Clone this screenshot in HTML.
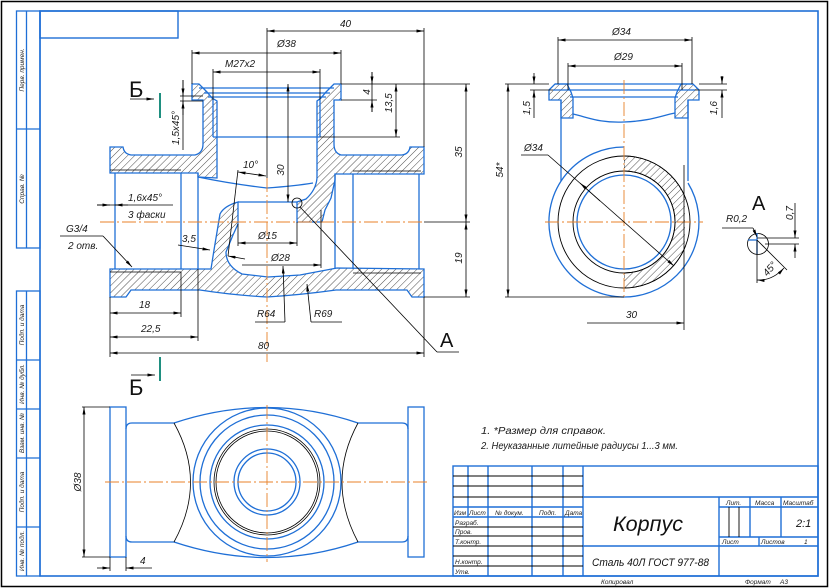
<!DOCTYPE html>
<html><head><meta charset="utf-8"><style>
html,body{margin:0;padding:0;background:#fff;}
svg{display:block;}
.t{font-family:"Liberation Sans","DejaVu Sans",sans-serif;font-style:italic;font-size:10px;fill:#1a1a1a;}
.s{font-family:"Liberation Sans","DejaVu Sans",sans-serif;font-style:italic;font-size:6.5px;fill:#1a1a1a;}
.b{fill:none;stroke:#1f6fd6;stroke-width:1.3;}
.k{fill:none;stroke:#000;stroke-width:0.8;}
.c{fill:none;stroke:#e8822a;stroke-width:0.9;stroke-dasharray:14 3 2 3;}
.h{fill:url(#hat);stroke:#1f6fd6;stroke-width:1.3;}
</style></head><body>
<svg width="830" height="588" viewBox="0 0 830 588" xmlns="http://www.w3.org/2000/svg">
<defs>
<pattern id="hat" patternUnits="userSpaceOnUse" width="5" height="5" patternTransform="rotate(45)">
<line x1="0" y1="0" x2="0" y2="5" stroke="#000" stroke-width="0.7"/>
</pattern>
<marker id="a" viewBox="0 0 10 4" refX="10" refY="2" markerWidth="8" markerHeight="3" orient="auto-start-reverse" markerUnits="userSpaceOnUse">
<path d="M0,0 L10,2 L0,4 z" fill="#000"/>
</marker>
<clipPath id="cl"><rect x="624" y="140" width="61" height="160"/></clipPath>
</defs>
<rect width="830" height="588" fill="#fff"/>

<!-- frames -->
<rect x="1.5" y="1.5" width="826" height="585" fill="none" stroke="#000" stroke-width="1.5"/>
<rect x="40" y="11" width="778" height="565" fill="none" stroke="#1f6fd6" stroke-width="1.6"/>
<rect x="40" y="11" width="138" height="27" fill="none" stroke="#1f6fd6" stroke-width="1.4"/>
<g fill="none" stroke="#1f6fd6" stroke-width="1.3">
<rect x="16.5" y="11" width="23.5" height="237"/>
<line x1="16.5" y1="129" x2="40" y2="129"/>
<line x1="26.5" y1="11" x2="26.5" y2="248"/>
<rect x="16.5" y="291" width="23.5" height="285"/>
<line x1="16.5" y1="360" x2="40" y2="360"/>
<line x1="16.5" y1="409" x2="40" y2="409"/>
<line x1="16.5" y1="458" x2="40" y2="458"/>
<line x1="16.5" y1="527" x2="40" y2="527"/>
<line x1="26.5" y1="291" x2="26.5" y2="576"/>
</g>
<text class="s" transform="rotate(-90 24 70)" x="24" y="70" text-anchor="middle">Перв. примен.</text>
<text class="s" transform="rotate(-90 24 189)" x="24" y="189" text-anchor="middle">Справ. №</text>
<text class="s" transform="rotate(-90 24 325)" x="24" y="325" text-anchor="middle">Подп. и дата</text>
<text class="s" transform="rotate(-90 24 384)" x="24" y="384" text-anchor="middle">Инв. № дубл.</text>
<text class="s" transform="rotate(-90 24 433)" x="24" y="433" text-anchor="middle">Взам. инв. №</text>
<text class="s" transform="rotate(-90 24 492)" x="24" y="492" text-anchor="middle">Подп. и дата</text>
<text class="s" transform="rotate(-90 24 551)" x="24" y="551" text-anchor="middle">Инв. № подл.</text>

<!-- ===== FRONT VIEW (section) ===== -->
<path class="h" d="M110,147 L123,147 Q124,154 131,155 L195,155 Q203,153 203,144 L203,100 L192,100 L192,84 L199,84 L207,92 L212,98 L217,101 L217,178 L198,177 L198,173 L110,173 Z"/>
<path class="h" d="M424,147 L410,147 Q409,154 402,155 L341,155 Q334,153 334,144 L334,100 L341,100 L341,84 L334,84 L326,92 L321,98 L317,101 L317,178 Q316,190 306,199 L297,202 L297,222 L322,222 L325,210 L331,198 L335,180 L335,174 L424,174 Z"/>
<path class="h" d="M110,269 L211,269 L214,250 L220,214 Q224,206 238,202 L238,224 L233,235 L226,252 Q226,266 242,274 L268,277 L300,275 L337,268 L424,269 L424,297 L412,297 L407,290 L336,290 Q300,295 267,297 Q232,295 200,290 L131,290 L126,297 L110,297 Z"/>
<!-- bore lines -->
<g class="b">
<path d="M198,177 Q232,184 267,188 Q295,186 313,183"/>
<line x1="181" y1="173" x2="181" y2="269"/>
<line x1="198" y1="173" x2="198" y2="269"/>
<line x1="115" y1="173" x2="115" y2="269"/>
<line x1="335" y1="174" x2="335" y2="269"/>
<line x1="353" y1="174" x2="353" y2="269"/>
<line x1="419" y1="174" x2="419" y2="269"/>
<line x1="238" y1="202" x2="297" y2="202"/>
<line x1="199" y1="88" x2="334" y2="88"/>
<line x1="204" y1="93" x2="330" y2="93"/>
<line x1="208" y1="97" x2="326" y2="97"/>
<line x1="213" y1="100" x2="213" y2="137"/>
<line x1="320" y1="100" x2="320" y2="137"/>
<line x1="213" y1="137" x2="320" y2="137"/>
</g>
<g class="k">
<line x1="110" y1="170" x2="181" y2="170"/>
<line x1="110" y1="272" x2="181" y2="272"/>
<line x1="353" y1="171" x2="421" y2="171"/>
<line x1="353" y1="273" x2="421" y2="273"/>
</g>
<!-- centerlines -->
<line class="c" x1="100" y1="222" x2="424" y2="222"/>
<line class="c" x1="267" y1="178" x2="267" y2="362"/>
<!-- dims front -->
<g class="k">
<line x1="267" y1="28" x2="267" y2="178"/>
<line x1="424" y1="28" x2="424" y2="147"/>
<line x1="192" y1="50" x2="192" y2="84"/>
<line x1="341" y1="50" x2="341" y2="84"/>
<line x1="213" y1="69" x2="213" y2="100"/>
<line x1="320" y1="69" x2="320" y2="100"/>
<line x1="341" y1="84" x2="470" y2="84"/>
<line x1="341" y1="100" x2="377" y2="100"/>
<line x1="320" y1="137" x2="400" y2="137"/>
<line x1="424" y1="222" x2="470" y2="222"/>
<line x1="424" y1="297" x2="470" y2="297"/>
<line x1="180" y1="96" x2="203" y2="96"/>
<line x1="180" y1="101" x2="203" y2="101"/>
<line x1="183" y1="80" x2="183" y2="150"/>
<line x1="372" y1="72" x2="372" y2="112"/>
<line x1="110" y1="297" x2="110" y2="357"/>
<line x1="181" y1="272" x2="181" y2="317"/>
<line x1="198" y1="269" x2="198" y2="341"/>
<line x1="424" y1="297" x2="424" y2="357"/>
<line x1="238" y1="224" x2="238" y2="246"/>
<line x1="297" y1="222" x2="297" y2="246"/>
<line x1="321" y1="210" x2="321" y2="268"/>
<line x1="238" y1="170" x2="228" y2="256"/>
<line x1="97" y1="205" x2="173" y2="205"/>
<line x1="60" y1="236" x2="103" y2="236"/>
<line x1="255" y1="322" x2="285" y2="322"/>
<line x1="311" y1="322" x2="342" y2="322"/>
<line x1="300" y1="207" x2="437" y2="352"/>
<line x1="437" y1="352" x2="459" y2="352"/>
</g>
<circle cx="297" cy="203" r="5" fill="none" stroke="#000" stroke-width="0.8"/>
<g class="k" marker-start="url(#a)" marker-end="url(#a)">
<line x1="267" y1="31" x2="424" y2="31" marker-start="url(#a)" marker-end="url(#a)"/>
<line x1="192" y1="53" x2="341" y2="53" marker-start="url(#a)" marker-end="url(#a)"/>
<line x1="213" y1="72" x2="320" y2="72" marker-start="url(#a)" marker-end="url(#a)"/>
<line x1="396" y1="84" x2="396" y2="137" marker-start="url(#a)" marker-end="url(#a)"/>
<line x1="466" y1="84" x2="466" y2="222" marker-start="url(#a)" marker-end="url(#a)"/>
<line x1="466" y1="222" x2="466" y2="297" marker-start="url(#a)" marker-end="url(#a)"/>
<line x1="288" y1="84" x2="288" y2="202" marker-start="url(#a)" marker-end="url(#a)"/>
<line x1="110" y1="313" x2="181" y2="313" marker-start="url(#a)" marker-end="url(#a)"/>
<line x1="110" y1="337" x2="198" y2="337" marker-start="url(#a)" marker-end="url(#a)"/>
<line x1="110" y1="353" x2="424" y2="353" marker-start="url(#a)" marker-end="url(#a)"/>
<line x1="238" y1="243" x2="297" y2="243" marker-start="url(#a)" marker-end="url(#a)"/>
<line x1="238" y1="172" x2="266" y2="176" marker-start="url(#a)" marker-end="url(#a)"/>
</g>
<g class="k">
<line x1="372" y1="72" x2="372" y2="84" marker-end="url(#a)"/>
<line x1="372" y1="112" x2="372" y2="100" marker-end="url(#a)"/>
<line x1="183" y1="80" x2="183" y2="96" marker-end="url(#a)"/>
<line x1="183" y1="115" x2="183" y2="101" marker-end="url(#a)"/>
<line x1="242" y1="265" x2="321" y2="265" marker-end="url(#a)"/>
<line x1="285" y1="322" x2="283" y2="266" marker-end="url(#a)"/>
<line x1="311" y1="322" x2="307" y2="284" marker-end="url(#a)"/>
<line x1="178" y1="245" x2="210" y2="250" marker-end="url(#a)"/>
<line x1="245" y1="259" x2="228" y2="256" marker-end="url(#a)"/>
<line x1="97" y1="205" x2="110" y2="205" marker-end="url(#a)"/>
<line x1="128" y1="205" x2="115" y2="205" marker-end="url(#a)"/>
<line x1="103" y1="236" x2="132" y2="267" marker-end="url(#a)"/>
<line x1="130" y1="99" x2="154" y2="99" marker-end="url(#a)"/>
<line x1="131" y1="375" x2="155" y2="375" marker-end="url(#a)"/>
</g>
<line x1="160" y1="93" x2="160" y2="118" stroke="#1f8f80" stroke-width="2"/>
<line x1="160" y1="357" x2="160" y2="381" stroke="#1f8f80" stroke-width="2"/>
<g class="t">
<text x="340" y="27">40</text>
<text x="277" y="47">Ø38</text>
<text x="225" y="67">M27x2</text>
<text x="367" y="95" transform="rotate(-90 367 92)" text-anchor="middle">4</text>
<text x="389" y="106" transform="rotate(-90 389 103)" text-anchor="middle">13,5</text>
<text x="459" y="155" transform="rotate(-90 459 152)" text-anchor="middle">35</text>
<text x="459" y="261" transform="rotate(-90 459 258)" text-anchor="middle">19</text>
<text x="281" y="173" transform="rotate(-90 281 170)" text-anchor="middle">30</text>
<text x="176" y="131" transform="rotate(-90 176 128)" text-anchor="middle">1,5x45°</text>
<text x="243" y="168">10°</text>
<text x="128" y="201">1,6x45°</text>
<text x="128" y="218">3 фаски</text>
<text x="66" y="232">G3/4</text>
<text x="68" y="249">2 отв.</text>
<text x="182" y="242">3,5</text>
<text x="258" y="239">Ø15</text>
<text x="271" y="261">Ø28</text>
<text x="257" y="317">R64</text>
<text x="314" y="317">R69</text>
<text x="139" y="308">18</text>
<text x="141" y="332">22,5</text>
<text x="258" y="349">80</text>
</g>
<text x="440" y="347" font-family="Liberation Sans, sans-serif" font-size="20" fill="#111">A</text>
<text x="129" y="97" font-family="Liberation Sans, sans-serif" font-size="22" fill="#111">Б</text>
<text x="129" y="395" font-family="Liberation Sans, sans-serif" font-size="22" fill="#111">Б</text>

<!-- ===== SIDE VIEW ===== -->
<path class="h" d="M549,90 L555,84 L567,84 L571,92 L573,98 L573,118 L561,118 L561,100 L549,100 Z"/>
<path class="h" d="M699,90 L693,84 L681,84 L677,92 L675,98 L675,118 L688,118 L688,100 L699,100 Z"/>
<g class="b">
<line x1="555" y1="84" x2="693" y2="84"/>
<line x1="553" y1="90" x2="695" y2="90"/>
<line x1="570" y1="97" x2="678" y2="97"/>
<line x1="561" y1="100" x2="561" y2="181"/>
<line x1="688" y1="100" x2="688" y2="181"/>
<path d="M573,114 C590,118 600,123 624,122 C650,121 660,116 675,113"/>
<path d="M624,147 A75,75 0 1 0 688,183"/>
<circle cx="624" cy="222" r="47"/>
</g>
<path d="M624,156 A66,66 0 0 1 624,288 L624,273 A51,51 0 0 0 624,171 Z" fill="url(#hat)" stroke="#000" stroke-width="0.8" clip-path="url(#cl)"/>
<circle cx="624" cy="222" r="66" fill="none" stroke="#000" stroke-width="0.9"/>
<circle cx="624" cy="222" r="51" fill="none" stroke="#000" stroke-width="0.9"/>
<line class="c" x1="545" y1="222" x2="703" y2="222"/>
<line class="c" x1="624" y1="80" x2="624" y2="300"/>
<g class="k">
<line x1="558" y1="37" x2="558" y2="84"/>
<line x1="692" y1="37" x2="692" y2="84"/>
<line x1="568" y1="63" x2="568" y2="90"/>
<line x1="682" y1="63" x2="682" y2="90"/>
<line x1="505" y1="84" x2="549" y2="84"/>
<line x1="530" y1="90" x2="553" y2="90"/>
<line x1="699" y1="84" x2="727" y2="84"/>
<line x1="695" y1="90" x2="727" y2="90"/>
<line x1="505" y1="297" x2="624" y2="297"/>
<line x1="684" y1="165" x2="684" y2="330"/>
<line x1="521" y1="155" x2="548" y2="155"/>
<line x1="548" y1="155" x2="674" y2="266" marker-end="url(#a)"/>
<line x1="600" y1="201" x2="580" y2="183" marker-end="url(#a)"/>
<line x1="534" y1="73" x2="534" y2="84" marker-end="url(#a)"/>
<line x1="534" y1="118" x2="534" y2="90" marker-end="url(#a)"/>
<line x1="722" y1="76" x2="722" y2="84" marker-end="url(#a)"/>
<line x1="722" y1="118" x2="722" y2="90" marker-end="url(#a)"/>
<line x1="587" y1="323" x2="684" y2="323" marker-end="url(#a)"/>
<line x1="558" y1="40" x2="692" y2="40" marker-start="url(#a)" marker-end="url(#a)"/>
<line x1="568" y1="66" x2="682" y2="66" marker-start="url(#a)" marker-end="url(#a)"/>
<line x1="508" y1="84" x2="508" y2="297" marker-start="url(#a)" marker-end="url(#a)"/>
</g>
<g class="t">
<text x="612" y="35">Ø34</text>
<text x="614" y="60">Ø29</text>
<text x="527" y="111" transform="rotate(-90 527 108)" text-anchor="middle">1,5</text>
<text x="714" y="111" transform="rotate(-90 714 108)" text-anchor="middle">1,6</text>
<text x="500" y="173" transform="rotate(-90 500 170)" text-anchor="middle">54*</text>
<text x="524" y="151">Ø34</text>
<text x="626" y="318">30</text>
</g>
<!-- detail A -->
<text x="752" y="210" font-family="Liberation Sans, sans-serif" font-size="20" fill="#111">A</text>
<circle cx="758" cy="244" r="10.5" fill="none" stroke="#000" stroke-width="0.8"/>
<g class="b" stroke-width="1.1">
<line x1="748" y1="240" x2="757" y2="240"/>
<line x1="757" y1="233" x2="757" y2="254"/>
</g>
<g class="k">
<line x1="757" y1="240" x2="787" y2="270"/>
<line x1="757" y1="240" x2="757" y2="283"/>
<path d="M757,280 Q772,281 784,268" marker-start="url(#a)" marker-end="url(#a)"/>
<line x1="722" y1="228" x2="753" y2="228"/>
<line x1="753" y1="228" x2="757" y2="237" marker-end="url(#a)"/>
<line x1="757" y1="238" x2="799" y2="238"/>
<line x1="765" y1="244" x2="799" y2="244"/>
<line x1="795" y1="203" x2="795" y2="238" marker-end="url(#a)"/>
<line x1="795" y1="258" x2="795" y2="244" marker-end="url(#a)"/>
</g>
<g class="t">
<text x="726" y="222">R0,2</text>
<text x="790" y="216" transform="rotate(-90 790 213)" text-anchor="middle">0,7</text>
<text x="770" y="272" transform="rotate(-50 770 269)" text-anchor="middle">45°</text>
</g>

<!-- ===== BOTTOM VIEW ===== -->
<g class="b">
<rect x="110" y="407" width="16" height="150"/>
<rect x="408" y="407" width="16" height="150"/>
<path d="M126,429 Q126,423 132,423 L174,423"/>
<path d="M126,536 Q126,542 132,542 L174,542"/>
<path d="M408,429 Q408,423 402,423 L358,423"/>
<path d="M408,536 Q408,542 402,542 L358,542"/>
<path d="M174,423 Q267,392 358,423"/>
<path d="M174,542 Q267,573 358,542"/>
<circle cx="267" cy="482" r="74"/>
<circle cx="267" cy="482" r="67"/>
<circle cx="267" cy="482" r="57"/>
<circle cx="267" cy="482" r="33"/>
<circle cx="267" cy="482" r="29"/>
</g>
<g class="k" stroke-width="1">
<circle cx="267" cy="482" r="53"/>
<circle cx="267" cy="482" r="51"/>
<path d="M174,423 Q207,482 174,542"/>
<path d="M358,423 Q326,482 358,542"/>
</g>
<line class="c" x1="105" y1="482" x2="429" y2="482"/>
<line class="c" x1="267" y1="405" x2="267" y2="562"/>
<g class="k">
<line x1="82" y1="407" x2="110" y2="407"/>
<line x1="82" y1="557" x2="110" y2="557"/>
<line x1="84" y1="407" x2="84" y2="557" marker-start="url(#a)" marker-end="url(#a)"/>
<line x1="110" y1="557" x2="110" y2="571"/>
<line x1="126" y1="557" x2="126" y2="571"/>
<line x1="97" y1="568" x2="110" y2="568" marker-end="url(#a)"/>
<line x1="152" y1="568" x2="126" y2="568" marker-end="url(#a)"/>
</g>
<text class="t" x="78" y="485" transform="rotate(-90 78 482)" text-anchor="middle">Ø38</text>
<text class="t" x="140" y="564">4</text>

<!-- notes -->
<text class="t" x="481" y="434" textLength="125" lengthAdjust="spacingAndGlyphs">1.  *Размер для справок.</text>
<text class="t" x="481" y="449" textLength="197" lengthAdjust="spacingAndGlyphs">2.  Неуказанные литейные радиусы 1...3 мм.</text>

<!-- ===== TITLE BLOCK ===== -->
<g fill="none" stroke="#1f6fd6" stroke-width="1.4">
<rect x="453" y="466" width="365" height="110"/>
<line x1="468" y1="466" x2="468" y2="517"/>
<line x1="488" y1="466" x2="488" y2="576"/>
<line x1="532" y1="466" x2="532" y2="576"/>
<line x1="563" y1="466" x2="563" y2="576"/>
<line x1="583" y1="466" x2="583" y2="576"/>
<line x1="453" y1="507" x2="583" y2="507"/>
<line x1="453" y1="517" x2="583" y2="517"/>
<line x1="583" y1="497" x2="818" y2="497"/>
<line x1="583" y1="546" x2="818" y2="546"/>
<line x1="719" y1="497" x2="719" y2="576"/>
<line x1="719" y1="507" x2="818" y2="507"/>
<line x1="719" y1="537" x2="818" y2="537"/>
<line x1="750" y1="497" x2="750" y2="537"/>
<line x1="781" y1="497" x2="781" y2="537"/>
<line x1="759" y1="537" x2="759" y2="546"/>
</g>
<g stroke="#000" stroke-width="0.9">
<line x1="453" y1="476" x2="583" y2="476"/>
<line x1="453" y1="486" x2="583" y2="486"/>
<line x1="453" y1="497" x2="583" y2="497"/>
<line x1="453" y1="527" x2="583" y2="527"/>
<line x1="453" y1="536" x2="583" y2="536"/>
<line x1="453" y1="546" x2="583" y2="546"/>
<line x1="453" y1="556" x2="583" y2="556"/>
<line x1="453" y1="566" x2="583" y2="566"/>
<line x1="729" y1="507" x2="729" y2="537"/>
<line x1="739" y1="507" x2="739" y2="537"/>
</g>
<g class="s">
<text x="454" y="515">Изм</text>
<text x="469" y="515">Лист</text>
<text x="495" y="515">№ докум.</text>
<text x="539" y="515">Подп.</text>
<text x="565" y="515">Дата</text>
<text x="455" y="525">Разраб.</text>
<text x="455" y="534">Пров.</text>
<text x="455" y="544">Т.контр.</text>
<text x="455" y="564">Н.контр.</text>
<text x="455" y="574">Утв.</text>
<text x="726" y="505">Лит.</text>
<text x="755" y="505">Масса</text>
<text x="783" y="505">Масштаб</text>
<text x="722" y="544">Лист</text>
<text x="761" y="544">Листов</text>
<text x="804" y="544">1</text>
<text x="601" y="584">Копировал</text>
<text x="745" y="584">Формат</text>
<text x="780" y="584">А3</text>
</g>
<text x="613" y="531" font-family="Liberation Sans, sans-serif" font-style="italic" font-size="21" fill="#111" textLength="70" lengthAdjust="spacingAndGlyphs">Корпус</text>
<text x="592" y="566" font-family="Liberation Sans, sans-serif" font-style="italic" font-size="11" fill="#111" textLength="117" lengthAdjust="spacingAndGlyphs">Сталь 40Л ГОСТ 977-88</text>
<text x="796" y="527" font-family="Liberation Sans, sans-serif" font-style="italic" font-size="11" fill="#111">2:1</text>
</svg>
</body></html>
